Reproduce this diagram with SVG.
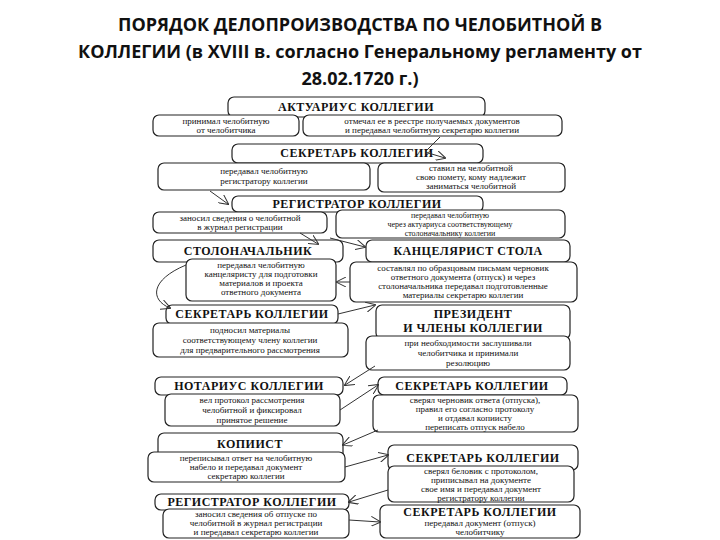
<svg xmlns="http://www.w3.org/2000/svg" width="720" height="540" viewBox="0 0 720 540">
<defs>
<style>
.t{font-family:"Open Sans","Liberation Sans",Arial,sans-serif;font-weight:bold;font-size:18px;fill:#111;text-anchor:middle}
.h{font-family:"Liberation Serif","Times New Roman",serif;font-weight:bold;font-size:12px;fill:#111;text-anchor:middle;letter-spacing:0.5px}
.b{font-family:"Liberation Serif","Times New Roman",serif;font-size:9px;fill:#111;text-anchor:middle}
.s{font-size:8px}
rect{fill:#fff;stroke:#222;stroke-width:1.2}
.c path{fill:none;stroke:#333;stroke-width:1}
</style>
<marker id="a" viewBox="0 0 10 10" refX="9" refY="5" markerWidth="10" markerHeight="10" orient="auto" markerUnits="userSpaceOnUse"><path d="M0,0 L10,5 L0,10" fill="none" stroke="#333" stroke-width="1"/></marker>
</defs>
<rect x="0" y="0" width="720" height="540" style="stroke:none"/>
<g id="title">
<text class="t" x="360" y="31">ПОРЯДОК ДЕЛОПРОИЗВОДСТВА ПО ЧЕЛОБИТНОЙ В</text>
<text class="t" x="360" y="58">КОЛЛЕГИИ (в XVIII в. согласно Генеральному регламенту от</text>
<text class="t" x="360" y="85">28.02.1720 г.)</text>
</g>
<g id="n1"><rect x="228" y="97" width="257" height="20" rx="6"/><text class="h" x="356" y="111">АКТУАРИУС КОЛЛЕГИИ</text></g>
<g id="n1a"><rect x="153" y="115" width="146" height="21" rx="6"/><text class="b" x="226" y="124">принимал челобитную</text><text class="b" x="226" y="133">от челобитчика</text></g>
<g id="n1b"><rect x="303" y="115" width="259" height="21" rx="6"/><text class="b" x="432" y="124">отмечал ее в реестре получаемых документов</text><text class="b" x="432" y="133">и передавал челобитную секретарю коллегии</text></g>
<g id="n2"><rect x="232" y="144" width="251" height="19" rx="6"/><text class="h" x="357" y="157">СЕКРЕТАРЬ КОЛЛЕГИИ</text></g>
<g id="n2a"><rect x="158" y="163" width="212" height="27" rx="6"/><text class="b" x="264" y="174">передавал челобитную</text><text class="b" x="264" y="184">регистратору коллегии</text></g>
<g id="n2b"><rect x="378" y="163" width="187" height="29" rx="6"/><text class="b" x="471" y="171">ставил на челобитной</text><text class="b" x="471" y="180">свою помету, кому надлежит</text><text class="b" x="471" y="189">заниматься челобитной</text></g>
<g id="n3"><rect x="232" y="196" width="251" height="16" rx="6"/><text class="h" x="357" y="208">РЕГИСТРАТОР КОЛЛЕГИИ</text></g>
<g id="n3a"><rect x="153" y="212" width="174" height="21" rx="6"/><text class="b" x="240" y="221">заносил сведения о челобитной</text><text class="b" x="240" y="230">в журнал регистрации</text></g>
<g id="n3b"><rect x="336" y="210" width="229" height="28" rx="6"/><text class="b s" x="450" y="218">передавал челобитную</text><text class="b s" x="450" y="227">через актуариуса соответствующему</text><text class="b s" x="450" y="236">столоначальнику коллегии</text></g>
<g id="n4"><rect x="153" y="240" width="190" height="22" rx="6"/><text class="h" x="248" y="255">СТОЛОНАЧАЛЬНИК</text></g>
<g id="n4a"><rect x="186" y="259" width="150" height="42" rx="6"/><text class="b" x="261" y="268">передавал челобитную</text><text class="b" x="261" y="277">канцеляристу для подготовки</text><text class="b" x="261" y="286">материалов и проекта</text><text class="b" x="261" y="295">ответного документа</text></g>
<g id="n5"><rect x="366" y="240" width="204" height="22" rx="6"/><text class="h" x="468" y="255">КАНЦЕЛЯРИСТ СТОЛА</text></g>
<g id="n5a"><rect x="350" y="262" width="227" height="40" rx="6"/><text class="b" x="463" y="271">составлял по образцовым письмам черновик</text><text class="b" x="463" y="280">ответного документа (отпуск) и через</text><text class="b" x="463" y="289">столоначальника передавал подготовленные</text><text class="b" x="463" y="298">материалы секретарю коллегии</text></g>
<g id="n6"><rect x="166" y="305" width="172" height="19" rx="6"/><text class="h" x="252" y="318">СЕКРЕТАРЬ КОЛЛЕГИИ</text></g>
<g id="n6a"><rect x="153" y="323" width="195" height="34" rx="6"/><text class="b" x="250" y="333">подносил материалы</text><text class="b" x="250" y="343">соответствующему члену коллегии</text><text class="b" x="250" y="353">для предварительного рассмотрения</text></g>
<g id="n7"><rect x="376" y="305" width="194" height="34" rx="6"/><text class="h" x="473" y="318">ПРЕЗИДЕНТ</text><text class="h" x="473" y="332">И ЧЛЕНЫ КОЛЛЕГИИ</text></g>
<g id="n7a"><rect x="366" y="336" width="204" height="34" rx="6"/><text class="b" x="468" y="346">при необходимости заслушивали</text><text class="b" x="468" y="356">челобитчика и принимали</text><text class="b" x="468" y="366">резолюцию</text></g>
<g id="n8"><rect x="155" y="377" width="188" height="18" rx="6"/><text class="h" x="249" y="390">НОТАРИУС КОЛЛЕГИИ</text></g>
<g id="n8a"><rect x="165" y="394" width="175" height="32" rx="6"/><text class="b" x="252" y="403">вел протокол рассмотрения</text><text class="b" x="252" y="413">челобитной и фиксировал</text><text class="b" x="252" y="423">принятое решение</text></g>
<g id="n9"><rect x="378" y="377" width="189" height="18" rx="6"/><text class="h" x="472" y="390">СЕКРЕТАРЬ КОЛЛЕГИИ</text></g>
<g id="n9a"><rect x="373" y="395" width="205" height="37" rx="6"/><text class="b" x="475" y="403">сверял черновик ответа (отпуска),</text><text class="b" x="475" y="412">правил его согласно протоколу</text><text class="b" x="475" y="421">и отдавал копиисту</text><text class="b" x="475" y="430">переписать отпуск набело</text></g>
<g id="n10"><rect x="158" y="433" width="185" height="26" rx="6"/><text class="h" x="250" y="448">КОПИИСТ</text></g>
<g id="n10a"><rect x="148" y="452" width="197" height="30" rx="6"/><text class="b" x="246" y="461">переписывал ответ на челобитную</text><text class="b" x="246" y="470">набело и передавал документ</text><text class="b" x="246" y="479">секретарю коллегии</text></g>
<g id="n11"><rect x="388" y="445" width="190" height="25" rx="6"/><text class="h" x="483" y="462">СЕКРЕТАРЬ КОЛЛЕГИИ</text></g>
<g id="n11a"><rect x="388" y="466" width="186" height="36" rx="6"/><text class="b" x="481" y="474">сверял беловик с протоколом,</text><text class="b" x="481" y="483">приписывал на документе</text><text class="b" x="481" y="492">свое имя и передавал документ</text><text class="b" x="481" y="501">регистратору коллегии</text></g>
<g id="n12"><rect x="155" y="494" width="194" height="16" rx="6"/><text class="h" x="252" y="506">РЕГИСТРАТОР КОЛЛЕГИИ</text></g>
<g id="n12a"><rect x="163" y="509" width="186" height="29" rx="6"/><text class="b" x="256" y="517">заносил сведения об отпуске по</text><text class="b" x="256" y="526">челобитной в журнал регистрации</text><text class="b" x="256" y="535">и передавал секретарю коллегии</text></g>
<g id="n13"><rect x="380" y="505" width="200" height="33" rx="6"/><text class="h" x="480" y="516">СЕКРЕТАРЬ КОЛЛЕГИИ</text><text class="b" x="480" y="526">передавал документ (отпуск)</text><text class="b" x="480" y="535">челобитчику</text></g>
<g class="c" id="connectors">
<path d="M440,137 L425,152 L445,158" marker-end="url(#a)"/>
<path d="M210,191 L228,204" marker-end="url(#a)"/>
<path d="M300,233 L318,244" marker-end="url(#a)"/>
<path d="M330,238 L365,247" marker-end="url(#a)"/>
<path d="M350,282 L337,282" marker-end="url(#a)"/>
<path d="M186,265 C150,280 150,300 170,308" marker-end="url(#a)"/>
<path d="M338,314 L375,305" marker-end="url(#a)"/>
<path d="M375,366 L345,385" marker-end="url(#a)"/>
<path d="M340,410 L378,385" marker-end="url(#a)"/>
<path d="M378,430 L343,445" marker-end="url(#a)"/>
<path d="M345,467 L388,455" marker-end="url(#a)"/>
<path d="M388,490 L349,502" marker-end="url(#a)"/>
<path d="M349,520 L380,522" marker-end="url(#a)"/>
</g>
</svg>
